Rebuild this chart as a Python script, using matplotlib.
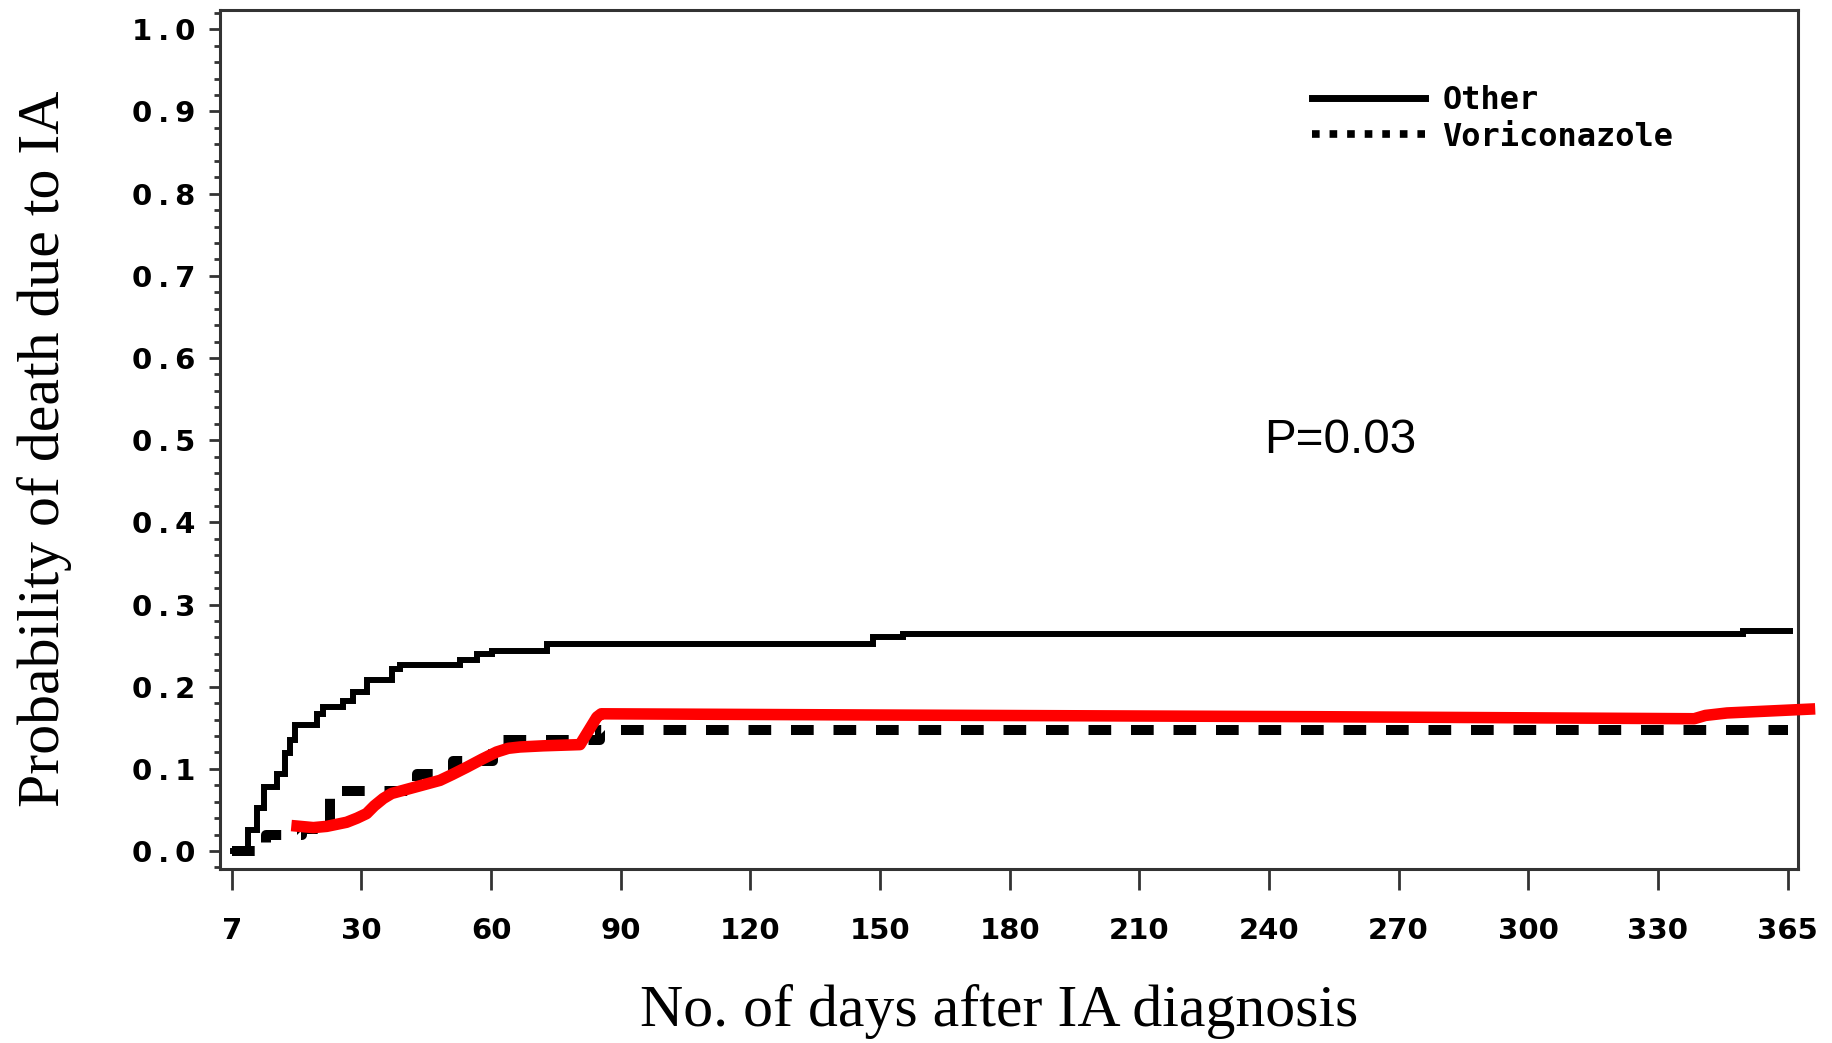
import matplotlib
matplotlib.use("Agg")
import matplotlib.pyplot as plt
from matplotlib.ticker import MultipleLocator
from matplotlib.lines import Line2D

# ---- data (x in axis units: 0..360, tick labelled 7 at 0 and 365 at 360) ----
x_ticks = [0, 30, 60, 90, 120, 150, 180, 210, 240, 270, 300, 330, 360]
x_tick_labels = ["7", "30", "60", "90", "120", "150", "180", "210", "240",
                 "270", "300", "330", "365"]
y_ticks = [0.0, 0.1, 0.2, 0.3, 0.4, 0.5, 0.6, 0.7, 0.8, 0.9, 1.0]
y_tick_labels = ["0\u2009.\u20090", "0\u2009.\u20091", "0\u2009.\u20092",
                 "0\u2009.\u20093", "0\u2009.\u20094", "0\u2009.\u20095",
                 "0\u2009.\u20096", "0\u2009.\u20097", "0\u2009.\u20098",
                 "0\u2009.\u20099", "1\u2009.\u20090"]

other_x = [0.4, 3.8, 5.8, 7.5, 10.4, 12.3, 13.5, 14.6, 19.7, 21.2, 25.8, 28.1,
           31.2, 37.0, 38.9, 52.8, 56.7, 60.2, 72.9, 148.5, 155.4, 349.8, 360.5]
other_y = [0.0, 0.025, 0.052, 0.078, 0.094, 0.119, 0.135, 0.153, 0.167, 0.175,
           0.183, 0.194, 0.208, 0.222, 0.226, 0.232, 0.240, 0.244, 0.252,
           0.260, 0.264, 0.268, 0.268]

vori_x = [0.0, 8.0, 16.3, 22.7, 42.8, 51.3, 60.5, 85.2, 360.0]
vori_y = [0.0, 0.019, 0.027, 0.073, 0.094, 0.110, 0.135, 0.147, 0.147]

red_x = [13.8, 18.9, 22.0, 26.6, 29.0, 31.2, 33.0, 35.1, 37.0, 40.5, 44.0,
         48.2, 51.0, 54.4, 58.0, 61.3, 64.0, 66.7, 72.0, 80.6, 84.5, 85.5,
         150.0, 250.0, 338.4, 341.0, 346.0, 366.4]
red_y = [0.031, 0.0285, 0.030, 0.035, 0.040, 0.0455, 0.055, 0.064, 0.070,
         0.075, 0.080, 0.086, 0.093, 0.102, 0.112, 0.1205, 0.125, 0.1266,
         0.128, 0.1295, 0.163, 0.167, 0.1655, 0.1635, 0.161, 0.165, 0.168,
         0.173]

legend_labels = ["Other", "Voriconazole"]

# ---- figure ----
fig = plt.figure(figsize=(18.32, 10.43), dpi=100)
ax = fig.add_axes([0.1201, 0.1665, 0.8613, 0.8239])

ax.step(other_x, other_y, where="post", color="black", lw=4.3,
        solid_joinstyle="miter", zorder=3)
ax.step(vori_x, vori_y, where="post", color="black", lw=7.2,
        dashes=(2.27, 1.98), dash_capstyle="butt", zorder=3)
ax.plot(red_x, red_y, color="#ff0000", lw=8.3, solid_capstyle="butt",
        solid_joinstyle="round", clip_on=False, zorder=4)

ax.set_xlim(-2.7, 362.4)
ax.set_ylim(-0.0223, 1.0235)

ax.set_xticks(x_ticks)
ax.set_xticklabels(x_tick_labels, fontfamily="DejaVu Sans",
                   fontweight="bold", fontsize=21)
ax.set_yticks(y_ticks)
ax.set_yticklabels(y_tick_labels, fontfamily="DejaVu Sans",
                   fontweight="bold", fontsize=21)
ax.yaxis.set_minor_locator(MultipleLocator(0.02))

ax.tick_params(axis="x", direction="out", length=15, width=2, pad=19.5,
               color="#333333")
ax.tick_params(axis="y", which="major", direction="out", length=8, width=2,
               pad=10, color="#333333")
ax.tick_params(axis="y", which="minor", direction="out", length=4.3, width=2,
               color="#333333")

for s in ax.spines.values():
    s.set_linewidth(2.2)
    s.set_color("#333333")

ax.set_xlabel("No. of days after IA diagnosis", fontfamily="Liberation Serif",
              fontsize=43, va="baseline")
ax.xaxis.set_label_coords(0.494, -0.1824)
ax.set_ylabel("Probability of death due to IA", fontfamily="Liberation Serif",
              fontsize=43, va="center")
ax.yaxis.set_label_coords(-0.111, 0.4897)

ax.text(256.6, 0.4845, "P=0.03", fontfamily="Liberation Sans", fontsize=34.3,
        ha="center", va="baseline")

handles = [
    Line2D([], [], color="black", lw=5),
    Line2D([], [], color="black", lw=5.5, dashes=(1.0, 1.3),
           dash_capstyle="butt"),
]
leg = ax.legend(handles, legend_labels, loc="upper left",
                bbox_to_anchor=(0.692, 0.913), frameon=False, borderpad=0,
                borderaxespad=0, handlelength=3.53, handletextpad=0.56,
                labelspacing=0.18,
                prop={"family": "DejaVu Sans Mono", "weight": "bold",
                      "size": 23})

fig.savefig("out.png", dpi=100)
